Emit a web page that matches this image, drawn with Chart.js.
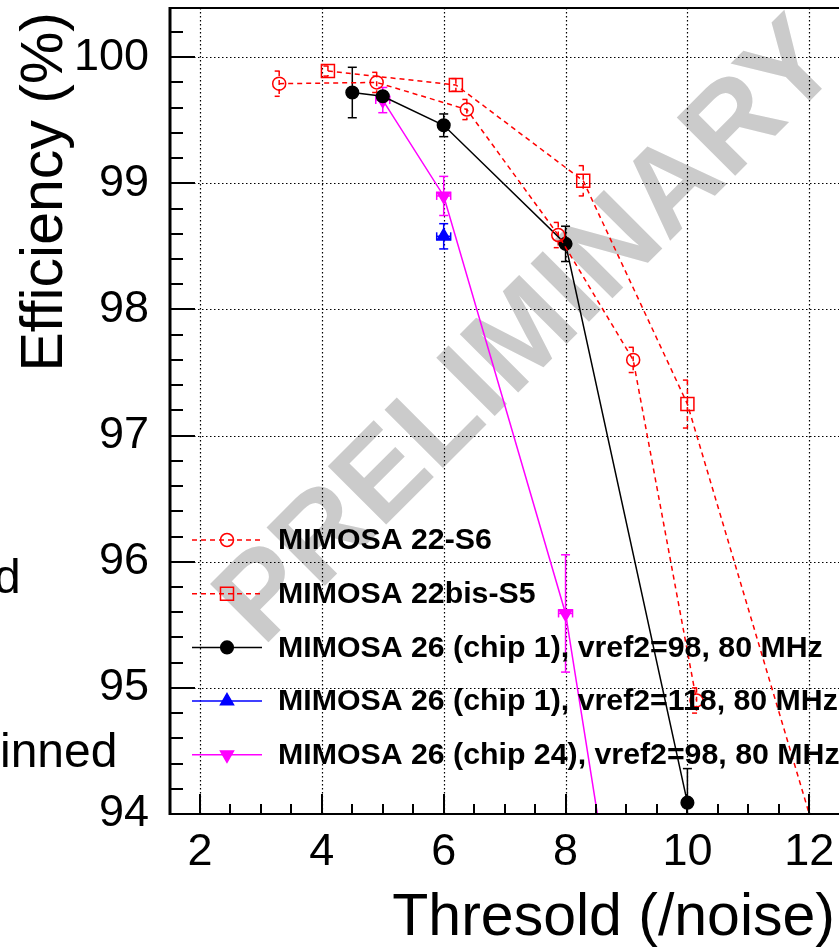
<!DOCTYPE html>
<html>
<head>
<meta charset="utf-8">
<title>Efficiency vs threshold</title>
<script src="https://cdn.jsdelivr.net/npm/chart.js@4.4.0/dist/chart.umd.min.js"></script>
<style>
  html, body { margin: 0; padding: 0; background: #fff; overflow: hidden; }
  #wrap { position: relative; width: 839px; height: 949px; }
</style>
</head>
<body>
<div id="wrap"><canvas id="chart" width="839" height="949"></canvas></div>
<script>
// MIMOSA 22-S6 (red open circles)
const m22s6X = [3.3, 4.9, 6.38, 7.88, 9.11, 10.15];
const m22s6Y = [99.79, 99.8, 99.585, 98.59, 97.6, 94.9];
const m22s6Err = [0.1, 0.08, 0.08, 0.1, 0.1, 0.1];

// MIMOSA 22bis-S5 (red open squares)
const m22bisX = [4.1, 6.2, 8.29, 10.0, 12.4];
const m22bisY = [99.89, 99.78, 99.02, 97.25, 93.35];
const m22bisErr = [0.04, 0.05, 0.12, 0.19, 0.2];

// MIMOSA 26 chip 1, vref2=98 (black)
const m26c1X = [4.5, 5.0, 6.0, 8.0, 10.0];
const m26c1Y = [99.72, 99.69, 99.46, 98.52, 94.09];
const m26c1Err = [0.2, 0.03, 0.09, 0.14, 0.27];

// MIMOSA 26 chip 1, vref2=118 (blue)
const m26c1hX = [6.0];
const m26c1hY = [98.58];
const m26c1hErr = [0.1];

// MIMOSA 26 chip 24, vref2=98 (magenta)
const m26c24X = [5.0, 6.0, 8.0, 10.0];
const m26c24Y = [99.66, 98.9, 95.59, 89.5];
const m26c24Err = [0.1, 0.155, 0.465, 0.5];

const seriesLabels = [
  "MIMOSA 22-S6",
  "MIMOSA 22bis-S5",
  "MIMOSA 26 (chip 1), vref2=98, 80 MHz",
  "MIMOSA 26 (chip 1), vref2=118, 80 MHz",
  "MIMOSA 26 (chip 24), vref2=98, 80 MHz"
];
const xTitle = "Thresold (/noise)";
const yTitle = "Efficiency (%)";
const watermarkText = "PRELIMINARY";
const sideTexts = ["d", "inned"];

const FONT = '"Liberation Sans", Arial, Helvetica, sans-serif';
Chart.defaults.font.family = FONT;
Chart.defaults.color = "#000";

function points(xs, ys) {
  return xs.map((x, i) => ({ x: x, y: ys[i] }));
}

function makeSeries(label, xs, ys, errs, style) {
  return Object.assign({
    label: label,
    data: points(xs, ys),
    errorBars: errs,
    showLine: true,
    tension: 0,
    clip: 0,
    borderWidth: 1.5,
    pointBorderWidth: 1.5,
    pointHoverRadius: 0
  }, style);
}

const RED = "#ff0000";
const MAGENTA = "#ff00ff";

const datasets = [
  makeSeries(seriesLabels[0], m22s6X, m22s6Y, m22s6Err, {
    borderColor: RED, borderDash: [5, 4], pointStyle: "circle", pointRadius: 6.5,
    pointBorderColor: RED, pointBackgroundColor: "rgba(0,0,0,0)"
  }),
  makeSeries(seriesLabels[1], m22bisX, m22bisY, m22bisErr, {
    borderColor: RED, borderDash: [5, 4], pointStyle: "rect", pointRadius: 9.2,
    pointBorderColor: RED, pointBackgroundColor: "rgba(0,0,0,0)"
  }),
  makeSeries(seriesLabels[2], m26c1X, m26c1Y, m26c1Err, {
    borderColor: "#000", pointStyle: "circle", pointRadius: 6.3,
    pointBorderColor: "#000", pointBackgroundColor: "#000"
  }),
  makeSeries(seriesLabels[3], m26c1hX, m26c1hY, m26c1hErr, {
    borderColor: "#0000ff", pointStyle: "triangle", pointRadius: 7.5,
    pointBorderColor: "#0000ff", pointBackgroundColor: "#0000ff", xErrPx: 7
  }),
  makeSeries(seriesLabels[4], m26c24X, m26c24Y, m26c24Err, {
    borderColor: MAGENTA, pointStyle: "triangle", pointRotation: 180, pointRadius: 7.5,
    pointBorderColor: MAGENTA, pointBackgroundColor: MAGENTA, xErrPx: 7
  })
];

function line(ctx, x1, y1, x2, y2) {
  ctx.beginPath();
  ctx.moveTo(x1, y1);
  ctx.lineTo(x2, y2);
  ctx.stroke();
}

// keep the plot frame fixed: no extra room for overhanging tick labels
function noScalePadding(scale) {
  scale.paddingLeft = 0;
  scale.paddingRight = 0;
  scale.paddingTop = 0;
  scale.paddingBottom = 0;
}

/**
 * ROOT-like decorations: watermark, dotted grid, error bars, frame, ticks, legend
 */
const rootStyle = {
  id: "rootStyle",
  beforeDatasetsDraw(chart) {
    const { ctx, chartArea: a, scales: { x, y } } = chart;
    ctx.save();
    ctx.beginPath();
    ctx.rect(a.left, a.top, a.right - a.left, a.bottom - a.top);
    ctx.clip();

    // watermark
    ctx.save();
    ctx.translate(530, 334);
    ctx.rotate(-Math.PI / 4);
    ctx.font = "bold 120px " + FONT;
    ctx.fillStyle = "#cbcbcb";
    ctx.textAlign = "center";
    ctx.textBaseline = "middle";
    ctx.fillText(watermarkText, 0, 0);
    ctx.restore();

    // dotted grid
    ctx.strokeStyle = "#000";
    ctx.lineWidth = 1.2;
    ctx.setLineDash([1.5, 2.5]);
    x.ticks.forEach(t => {
      const px = Math.round(x.getPixelForValue(t.value)) + 0.5;
      line(ctx, px, a.top, px, a.bottom);
    });
    y.ticks.forEach(t => {
      const py = Math.round(y.getPixelForValue(t.value)) + 0.5;
      line(ctx, a.left, py, a.right, py);
    });

    // error bars
    chart.data.datasets.forEach((ds, i) => {
      if (!ds.errorBars) return;
      const meta = chart.getDatasetMeta(i);
      ctx.strokeStyle = ds.borderColor;
      ctx.lineWidth = 1.5;
      ctx.setLineDash(ds.borderDash || []);
      meta.data.forEach((pt, j) => {
        const v = ds.data[j].y;
        const e = ds.errorBars[j];
        const y1 = y.getPixelForValue(v + e);
        const y2 = y.getPixelForValue(v - e);
        line(ctx, pt.x, y1, pt.x, y2);
        line(ctx, pt.x - 4.5, y1, pt.x + 4.5, y1);
        line(ctx, pt.x - 4.5, y2, pt.x + 4.5, y2);
        if (ds.xErrPx) {
          const w = ds.xErrPx;
          line(ctx, pt.x - w, pt.y, pt.x + w, pt.y);
          line(ctx, pt.x - w, pt.y - 4, pt.x - w, pt.y + 4);
          line(ctx, pt.x + w, pt.y - 4, pt.x + w, pt.y + 4);
        }
      });
    });
    ctx.restore();
  },

  afterDatasetsDraw(chart) {
    const { ctx, chartArea: a, scales: { x, y } } = chart;
    ctx.save();
    ctx.setLineDash([]);
    ctx.strokeStyle = "#000";

    // frame
    ctx.lineWidth = 2;
    line(ctx, a.left, a.top, a.right, a.top);
    line(ctx, a.left, a.bottom, a.right, a.bottom);
    ctx.lineWidth = 3;
    line(ctx, a.left, a.top - 1, a.left, a.bottom + 1);

    // tick marks (inside)
    ctx.lineWidth = 2;
    for (let v = 94; v <= y.max + 1e-6; v += 0.2) {
      const vv = Math.round(v * 10) / 10;
      const py = Math.round(y.getPixelForValue(vv));
      const major = Math.abs(vv - Math.round(vv)) < 1e-6;
      line(ctx, a.left, py, a.left + (major ? 25 : 13), py);
    }
    for (let v = 1.5; v <= x.max + 1e-6; v += 0.5) {
      if (v < x.min) continue;
      const px = Math.round(x.getPixelForValue(v));
      const major = Math.abs(v / 2 - Math.round(v / 2)) < 1e-6;
      line(ctx, px, a.bottom, px, a.bottom - (major ? 20 : 10));
    }

    // legend
    const rowY0 = 540, rowStep = 53.7;
    const sampleX1 = 192, sampleX2 = 262, markX = 227, textX = 278;
    ctx.font = "bold 30.3px " + FONT;
    ctx.textBaseline = "middle";
    ctx.textAlign = "left";
    chart.data.datasets.forEach((ds, i) => {
      const ry = rowY0 + i * rowStep;
      ctx.strokeStyle = ds.borderColor;
      ctx.lineWidth = 1.5;
      ctx.setLineDash(ds.borderDash || []);
      line(ctx, sampleX1, ry, sampleX2, ry);
      ctx.setLineDash([]);
      ctx.fillStyle = ds.pointBackgroundColor;
      ctx.strokeStyle = ds.pointBorderColor;
      Chart.helpers.drawPoint(ctx, {
        pointStyle: ds.pointStyle,
        radius: ds.pointRadius,
        rotation: ds.pointRotation || 0,
        borderWidth: 1.5
      }, markX, ry);
      ctx.fillStyle = "#000";
      ctx.fillText(ds.label, textX, ry + 1);
    });

    // axis titles
    ctx.fillStyle = "#000";
    ctx.font = "59px " + FONT;
    ctx.textBaseline = "alphabetic";
    ctx.textAlign = "right";
    ctx.fillText(xTitle, 835, 935);
    ctx.save();
    ctx.translate(62, 12);
    ctx.rotate(-Math.PI / 2);
    ctx.fillText(yTitle, 0, 0);
    ctx.restore();

    // text of the slide behind the plot
    ctx.textAlign = "left";
    ctx.font = "48px " + FONT;
    ctx.fillText(sideTexts[0], -6, 593);
    ctx.fillText(sideTexts[1], 0, 767);
    ctx.restore();
  }
};

new Chart(document.getElementById("chart"), {
  type: "scatter",
  data: { datasets: datasets },
  options: {
    responsive: false,
    animation: false,
    events: [],
    layout: { autoPadding: false, padding: { top: 8, left: 0, right: 0, bottom: 0 } },
    plugins: { legend: { display: false }, tooltip: { enabled: false } },
    scales: {
      x: {
        type: "linear",
        min: 1.508,
        max: 12.488,
        grid: { display: false },
        border: { display: false },
        ticks: {
          stepSize: 2,
          includeBounds: false,
          autoSkip: false,
          maxRotation: 0,
          padding: 4,
          color: "#000",
          font: { size: 45 }
        },
        afterFit(scale) { scale.height = 135; noScalePadding(scale); }
      },
      y: {
        type: "linear",
        min: 94,
        max: 100.39,
        grid: { display: false },
        border: { display: false },
        ticks: {
          stepSize: 1,
          includeBounds: false,
          autoSkip: false,
          padding: 13,
          color: "#000",
          font: { size: 45 }
        },
        afterFit(scale) { scale.width = 170; noScalePadding(scale); }
      }
    }
  },
  plugins: [rootStyle]
});
</script>
</body>
</html>
